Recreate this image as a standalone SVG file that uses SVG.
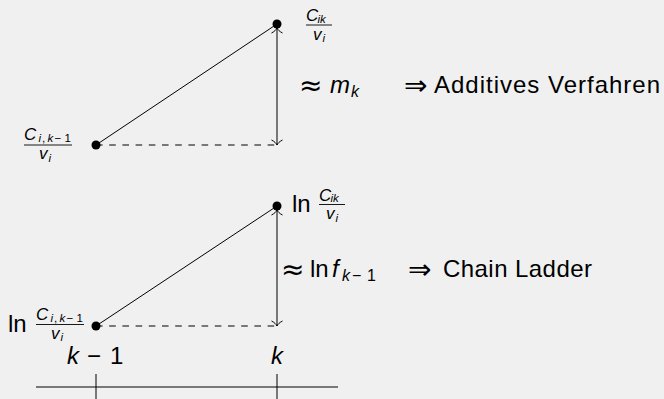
<svg xmlns="http://www.w3.org/2000/svg" width="664" height="399" viewBox="0 0 664 399">
<style>
.t{font-family:"Liberation Sans","DejaVu Sans",sans-serif;fill:#000}
.dv{font-family:"DejaVu Sans",sans-serif;fill:#000;font-size:28px}
.i{font-style:italic}
.big{font-size:24px}
.fr{font-size:17px}
.sub{font-size:11.5px}
.ln{stroke:#000;stroke-width:1;fill:none}
.dash{stroke:#000;stroke-width:1;stroke-dasharray:6.6 6.6;fill:none}
.bar{stroke:#000;stroke-width:0.9}
</style>
<defs>
<marker id="to" markerUnits="userSpaceOnUse" viewBox="-7 -7 14 14" markerWidth="14" markerHeight="14" refX="0" refY="0" orient="auto-start-reverse" overflow="visible">
<path d="M -5 -5.5 C -3.5 -2.5 -1.5 -0.6 0 0 C -1.5 0.6 -3.5 2.5 -5 5.5" fill="none" stroke="#000" stroke-width="1"/>
</marker>
<g id="fracA">
<line class="bar" x1="0" y1="0" x2="26" y2="0"/>
<text class="t i fr" x="0" y="-4">C</text>
<text class="t i sub" x="11.5" y="-2.2">ik</text>
<text class="t i fr" x="7" y="14.5">v</text>
<text class="t i sub" x="16.5" y="17">i</text>
</g>
<g id="fracB">
<line class="bar" x1="0" y1="0" x2="48" y2="0"/>
<text class="t i fr" x="0" y="-5">C</text>
<text class="t sub" y="-3"><tspan class="i" x="14.5">i</tspan><tspan x="18">,</tspan><tspan class="i" x="23.5">k</tspan><tspan x="30.5">−</tspan><tspan x="40.5">1</tspan></text>
<text class="t i fr" x="15" y="14">v</text>
<text class="t i sub" x="24.5" y="16.5">i</text>
</g>
</defs>
<rect width="664" height="399" fill="#f0f0f0"/>

<g id="connectors">
<line class="ln" x1="96" y1="145" x2="277" y2="24"/>
<line class="dash" x1="96" y1="145" x2="277" y2="145"/>
<line class="ln" x1="277" y1="28" x2="277" y2="145" marker-start="url(#to)" marker-end="url(#to)"/>
<line class="ln" x1="96" y1="326" x2="277" y2="206"/>
<line class="dash" x1="96" y1="326" x2="277" y2="326"/>
<line class="ln" x1="277" y1="210" x2="277" y2="326" marker-start="url(#to)" marker-end="url(#to)"/>
</g>

<g id="top-k">
<circle cx="277" cy="24" r="4.5" fill="#000"/>
<use href="#fracA" x="306" y="25"/>
</g>
<g id="top-k-1">
<circle cx="96" cy="145" r="4.5" fill="#000"/>
<use href="#fracB" x="24" y="145"/>
</g>
<g id="top-label">
<text class="dv" x="299" y="94.5">≈</text>
<text class="t big i" x="330" y="93">m</text>
<text class="t i" x="351" y="97" style="font-size:16px">k</text>
<text class="dv" x="404" y="94.5">⇒</text>
<text class="t big" x="434" y="93" textLength="226" lengthAdjust="spacing">Additives Verfahren</text>
</g>

<g id="bottom-k">
<circle cx="277" cy="206" r="4.5" fill="#000"/>
<text class="t big" x="292" y="212">ln</text>
<use href="#fracA" x="319" y="204.5"/>
</g>
<g id="bottom-k-1">
<circle cx="96" cy="326" r="4.5" fill="#000"/>
<text class="t big" x="8" y="332">ln</text>
<use href="#fracB" x="36" y="324.5"/>
</g>
<g id="bottom-label">
<text class="dv" x="281" y="278.5">≈</text>
<text class="t big" x="310" y="277">ln</text>
<text class="t big i" x="332" y="277">f</text>
<text class="t" y="281" style="font-size:16px"><tspan class="i" x="342">k</tspan><tspan x="352">−</tspan><tspan x="367">1</tspan></text>
<text class="dv" x="408" y="278.5">⇒</text>
<text class="t big" x="443" y="277" textLength="149" lengthAdjust="spacing">Chain Ladder</text>
</g>

<g id="axis">
<line class="ln" x1="36" y1="387" x2="338" y2="387"/>
<line class="ln" x1="96" y1="374" x2="96" y2="399"/>
<line class="ln" x1="277" y1="374" x2="277" y2="399"/>
<text class="t big i" x="67" y="364">k</text>
<text class="t big" x="87" y="364">−</text>
<text class="t big" x="110" y="364">1</text>
<text class="t big i" x="271" y="364">k</text>
</g>
</svg>
